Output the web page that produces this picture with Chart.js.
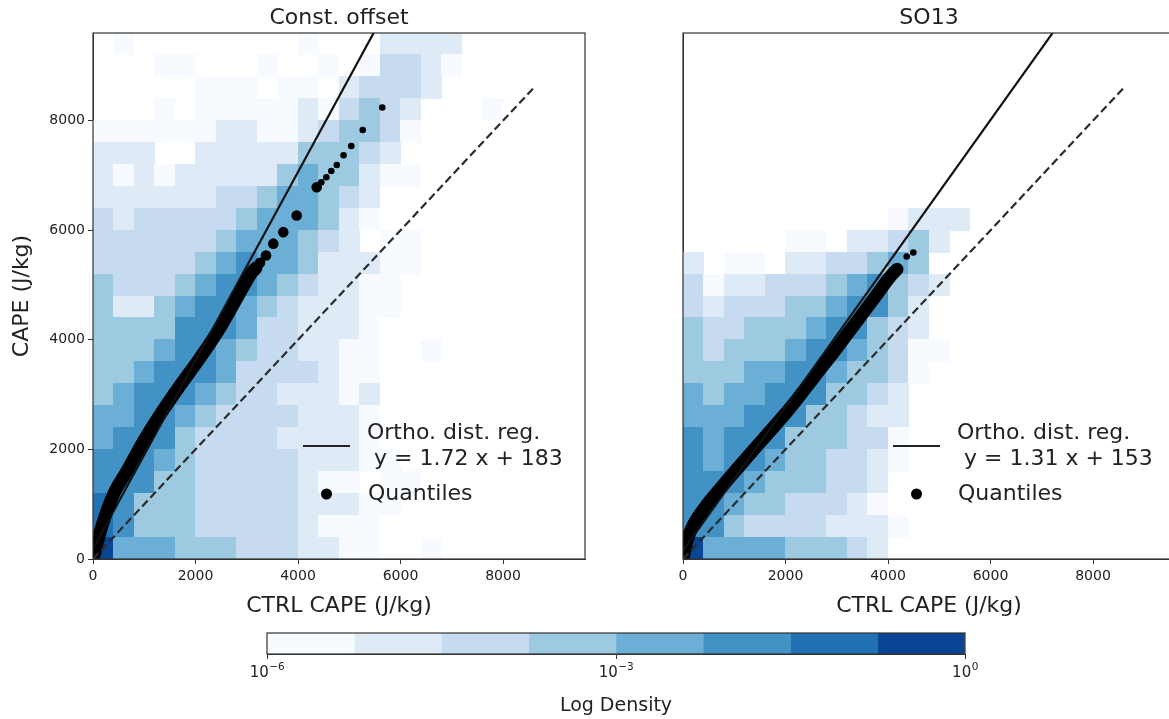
<!DOCTYPE html>
<html>
<head>
<meta charset="utf-8">
<script src="https://cdn.jsdelivr.net/npm/chart.js@4.4.0/dist/chart.umd.min.js"></script>
<style>
  html, body { margin: 0; padding: 0; background: #fff; overflow: hidden; width: 1169px; height: 719px; position: relative; }
  .panel { position: absolute; }
</style>
</head>
<body>
<div class="panel" style="left:0;top:0;width:600px;height:620px"><canvas id="offsetChart"></canvas></div>
<div class="panel" style="left:590px;top:0;width:600px;height:620px"><canvas id="so13Chart"></canvas></div>
<div class="panel" style="left:200px;top:620px;width:830px;height:99px"><canvas id="colorbar"></canvas></div>
<script>
// axes
const binEdges = [0, 400, 800, 1200, 1600, 2000, 2400, 2800, 3200, 3600, 4000, 4400, 4800,
                  5200, 5600, 6000, 6400, 6800, 7200, 7600, 8000, 8400, 8800, 9200, 9600];
const xTickValues = [0, 2000, 4000, 6000, 8000];
const yTickValues = [0, 2000, 4000, 6000, 8000];
const panelTitles = ['Const. offset', 'SO13'];

// colour classes of the log density (1..8), 0 = empty bin
const densityColors = ['#f7fbff', '#deebf7', '#c6dbef', '#9ecae1', '#6baed6', '#4292c6', '#2171b5', '#084594'];
const densityBounds = [-6, -5.25, -4.5, -3.75, -3, -2.25, -1.5, -0.75, 0];
const densityTickValues = [-6, -3, 0];
const densityTickBase = '10';
const densityTickExp = ['−6', '−3', '0'];

// 2d histograms, top row first, one digit per 400 J/kg bin
const offsetGrid = [
  "010000000010002222000000",
  "000110001001013321000000",
  "000001110110233320000000",
  "000101111121343200010000",
  "111111221123443100000000",
  "222002222244432000000000",
  "212122222454421100000000",
  "222222334554320000000000",
  "323333345554210000000000",
  "333333455543201100000000",
  "333334565542221100000000",
  "433345665432211000000000",
  "422456654322211000000000",
  "444466653322210000000000",
  "444566543322110010000000",
  "445666533332110000000000",
  "456665433222120000000000",
  "556654333322210000000000",
  "566643333222210000000000",
  "666543333322211000000000",
  "666443333321101100000000",
  "764443333322211000000000",
  "764443333321110000000000",
  "855544433322110010000000"
];
const so13Grid = [
  "000000000000000000000000",
  "000000000000000000000000",
  "000000000000000000000000",
  "000000000000000000000000",
  "000000000000000000000000",
  "000000000000000000000000",
  "000000000000000000000000",
  "000000000000000000000000",
  "000000000012220000000000",
  "000001102234200000000000",
  "201102233454000000000000",
  "312233345643200000000000",
  "323334456642000000000000",
  "433444566432000000000000",
  "434445665431100000000000",
  "444556654431000000000000",
  "545566644320000000000000",
  "555666443220000000000000",
  "656664443310000000000000",
  "656654433210000000000000",
  "666544433200000000000000",
  "665443332100000000000000",
  "664333322210000000000000",
  "855554443200000000000000"
];

// regression fits
const fitSlope = [1.72, 1.31];
const fitIntercept = [183, 153];
const oneToOne = [[0, 0], [8600, 8600]];

// quantiles (CTRL CAPE, CAPE)
const offsetBand = [[0, 0], [72, 256], [201, 682], [396, 1171], [657, 1597], [981, 2145], [1307, 2634],
                    [1664, 3122], [2088, 3671], [2478, 4220], [2840, 4815], [3096, 5225], [3180, 5310]];
const offsetBig = [[3128, 5270], [3258, 5408], [3376, 5540], [3518, 5755], [3713, 5965], [3974, 6269], [4365, 6785]];
const offsetTail = [[4455, 6876], [4553, 6968], [4650, 7081], [4757, 7191], [4889, 7368],
                    [5040, 7538], [5263, 7829], [5644, 8241]];
const so13Band = [[0, 0], [72, 316], [201, 621], [463, 986], [786, 1351], [1177, 1777], [1634, 2264],
                  [2088, 2752], [2543, 3300], [2999, 3847], [3389, 4333], [3779, 4821], [4039, 5149], [4175, 5286]];
const so13Big = [];
const so13Tail = [[4365, 5520], [4494, 5593]];

Chart.defaults.font.family = "'DejaVu Sans', sans-serif";
const textColor = '#222';
const toPts = arr => arr.map(p => ({ x: p[0], y: p[1] }));

function drawFrame(chart) {
  const { ctx, chartArea: a } = chart;
  ctx.save();
  ctx.strokeStyle = '#333';
  ctx.lineWidth = 1.2;
  ctx.strokeRect(a.left, a.top, a.right - a.left, a.bottom - a.top);
  ctx.restore();
}

const panelDecor = {
  id: 'panelDecor',
  beforeDatasetsDraw(chart, args, opts) {
    const { ctx, scales: { x, y } } = chart;
    const n = opts.grid.length;
    ctx.save();
    opts.grid.forEach((row, r) => {
      const j = n - 1 - r;
      for (let i = 0; i < row.length; i++) {
        const lvl = +row[i];
        if (!lvl) continue;
        const x0 = Math.floor(x.getPixelForValue(binEdges[i]));
        const x1 = Math.ceil(x.getPixelForValue(binEdges[i + 1]));
        const y0 = Math.ceil(y.getPixelForValue(binEdges[j]));
        const y1 = Math.floor(y.getPixelForValue(binEdges[j + 1]));
        ctx.fillStyle = densityColors[lvl - 1];
        ctx.fillRect(x0, y1, x1 - x0, y0 - y1);
      }
    });
    ctx.restore();
  },
  afterDatasetsDraw(chart) {
    drawFrame(chart);
  },
  afterDraw(chart, args, opts) {
    const { ctx, chartArea: a } = chart;
    ctx.save();
    ctx.fillStyle = textColor;
    ctx.font = "22px 'DejaVu Sans'";
    ctx.textAlign = 'center';
    ctx.fillText(opts.title, (a.left + a.right) / 2, 24);
    // legend
    ctx.textAlign = 'left';
    ctx.strokeStyle = '#222';
    ctx.lineWidth = 2.2;
    ctx.beginPath();
    ctx.moveTo(a.left + 210, 446);
    ctx.lineTo(a.left + 257, 446);
    ctx.stroke();
    ctx.fillText('Ortho. dist. reg.', a.left + 274, 439);
    ctx.fillText(opts.fitLabel, a.left + 274, 465);
    ctx.fillStyle = '#000';
    ctx.beginPath();
    ctx.arc(a.left + 233.5, 494, 5.5, 0, Math.PI * 2);
    ctx.fill();
    ctx.fillStyle = textColor;
    ctx.fillText('Quantiles', a.left + 275, 500);
    ctx.restore();
  }
};

function makePanel(canvasId, k, grid, band, big, tail) {
  const fit = [0, 9600].map(v => ({ x: v, y: fitSlope[k] * v + fitIntercept[k] }));
  return new Chart(document.getElementById(canvasId), {
    type: 'scatter',
    data: {
      datasets: [
        { type: 'line', data: fit, borderColor: '#111', borderWidth: 2.2, pointRadius: 0, order: 1 },
        { type: 'line', data: toPts(oneToOne), borderColor: '#2b2b2b', borderWidth: 2.2, borderDash: [8, 4], pointRadius: 0, order: 2 },
        { type: 'line', data: toPts(band), borderColor: '#000', borderWidth: 13, borderCapStyle: 'round',
          borderJoinStyle: 'round', pointRadius: 0, cubicInterpolationMode: 'monotone', order: 3 },
        { data: toPts(big), pointRadius: 5.3, backgroundColor: '#000', borderWidth: 0, order: 3 },
        { data: toPts(tail), pointRadius: 3.3, backgroundColor: '#000', borderWidth: 0, order: 3 }
      ]
    },
    options: {
      responsive: true,
      maintainAspectRatio: false,
      animation: false,
      layout: { padding: { top: 33, right: 15, left: 0, bottom: 0 } },
      plugins: {
        legend: { display: false },
        tooltip: { enabled: false },
        panelDecor: {
          grid: grid,
          title: panelTitles[k],
          fitLabel: ` y = ${fitSlope[k].toFixed(2)} x + ${fitIntercept[k]}`
        }
      },
      scales: {
        x: {
          type: 'linear', min: 0, max: 9600,
          afterBuildTicks: s => { s.ticks = xTickValues.map(v => ({ value: v })); },
          ticks: { callback: v => String(v), font: { size: 14 }, color: textColor, padding: 4, maxRotation: 0, autoSkip: false },
          grid: { drawOnChartArea: false, tickLength: 5, color: '#333' },
          border: { color: '#333' },
          title: { display: true, text: 'CTRL CAPE (J/kg)', font: { size: 22 }, color: textColor, padding: { top: 0, bottom: 1 } },
          afterFit: s => { s.height = 61; }
        },
        y: {
          type: 'linear', min: 0, max: 9600,
          afterBuildTicks: s => { s.ticks = yTickValues.map(v => ({ value: v })); },
          ticks: { display: k === 0, callback: v => String(v), font: { size: 14 }, color: textColor, padding: 3, autoSkip: false },
          grid: { display: k === 0, drawOnChartArea: false, tickLength: 5, color: '#333' },
          border: { color: '#333' },
          title: { display: k === 0, text: 'CAPE (J/kg)', font: { size: 22 }, color: textColor, padding: { top: 9, bottom: 0 } },
          afterFit: s => { s.width = 93; }
        }
      }
    },
    plugins: [panelDecor]
  });
}

makePanel('offsetChart', 0, offsetGrid, offsetBand, offsetBig, offsetTail);
makePanel('so13Chart', 1, so13Grid, so13Band, so13Big, so13Tail);

// colorbar: frame plus 10^n labels with a raised exponent
const colorbarDecor = {
  id: 'colorbarDecor',
  afterDatasetsDraw(chart) {
    drawFrame(chart);
  },
  afterDraw(chart) {
    const { ctx, scales: { x } } = chart;
    ctx.save();
    ctx.fillStyle = textColor;
    ctx.textAlign = 'left';
    densityTickValues.forEach((v, i) => {
      const px = x.getPixelForValue(v);
      ctx.font = "15px 'DejaVu Sans'";
      const wb = ctx.measureText(densityTickBase).width;
      ctx.font = "10.5px 'DejaVu Sans'";
      const we = ctx.measureText(densityTickExp[i]).width;
      const start = px - (wb + we) / 2;
      ctx.font = "15px 'DejaVu Sans'";
      ctx.fillText(densityTickBase, start, 57);
      ctx.font = "10.5px 'DejaVu Sans'";
      ctx.fillText(densityTickExp[i], start + wb + 0.5, 50);
    });
    ctx.restore();
  }
};

new Chart(document.getElementById('colorbar'), {
  type: 'bar',
  data: {
    labels: ['density'],
    datasets: densityColors.map((c, k) => ({
      data: [[densityBounds[k], densityBounds[k + 1]]],
      backgroundColor: c, borderWidth: 0, barPercentage: 1, categoryPercentage: 1, grouped: false
    }))
  },
  options: {
    indexAxis: 'y',
    responsive: true,
    maintainAspectRatio: false,
    animation: false,
    layout: { padding: { left: 67, right: 65, top: 13, bottom: 0 } },
    plugins: { legend: { display: false }, tooltip: { enabled: false } },
    scales: {
      y: { display: false },
      x: {
        type: 'linear', min: -6, max: 0,
        afterBuildTicks: s => { s.ticks = densityTickValues.map(v => ({ value: v })); },
        ticks: { callback: () => '', font: { size: 15 }, color: textColor, padding: 4, maxRotation: 0, autoSkip: false },
        grid: { drawOnChartArea: false, tickLength: 5, color: '#333' },
        border: { color: '#333' },
        title: { display: true, text: 'Log Density', font: { size: 19 }, color: textColor, padding: { top: 0, bottom: 2 } },
        afterFit: s => { s.height = 65; }
      }
    }
  },
  plugins: [colorbarDecor]
});
</script>
</body>
</html>
